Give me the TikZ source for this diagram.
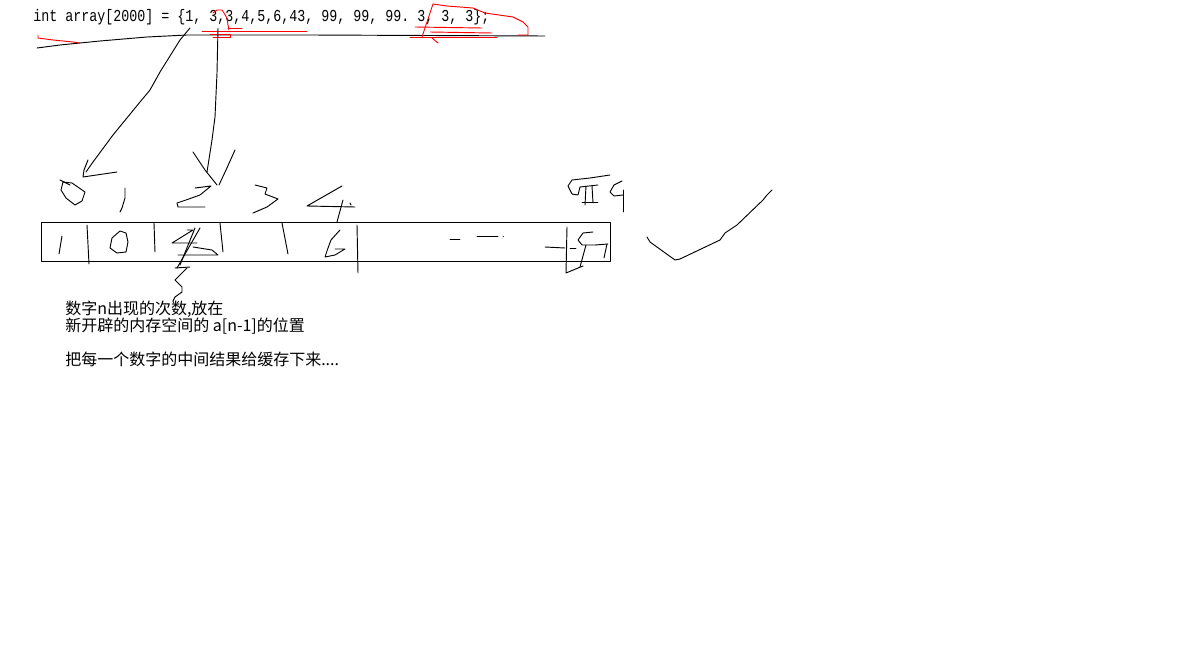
\documentclass[tikz,border=0pt]{standalone}
\usepackage{fontspec}
\setmonofont{Liberation Mono}
\newfontfamily\cjk{Noto Sans CJK SC}
\tikzset{
  pen/.style={line width=0.7pt, line join=round, line cap=round},
  redpen/.style={pen, red},
  note/.style={anchor=base west, inner sep=0pt, font=\cjk\fontsize{12}{14}\selectfont}
}

\begin{document}
\begin{tikzpicture}[x=0.75pt, y=-0.75pt]
\useasboundingbox (0,0) rectangle (1183,649);

% the source line
\node[anchor=base west, inner sep=0pt, font=\ttfamily\fontsize{10}{12}\selectfont] (code) at (33,22)
  {\scalebox{1}[1.25]{int array[2000] = \{1, 3,3,4,5,6,43, 99, 99, 99. 3, 3, 3\};}};
\draw[pen] (37,48) -- (60,45) -- (100,41) -- (147,37) -- (187,35) -- (310,35) -- (545,36);

% red marks
\draw[redpen] (38,35) -- (38,38) -- (53,40) -- (73,42) -- (80,43);
\draw[redpen] (213,13) -- (217,10) -- (222,10) -- (224,13) -- (227,18) -- (228,25) -- (229,30);
\draw[redpen] (202,31) -- (307,31);
\draw[redpen] (228,28) -- (242,28);
\draw[redpen] (210,34) -- (230,34) -- (230,37) -- (213,37);
\draw[redpen] (422,37) -- (433,4) -- (447,6) -- (473,8) -- (485,13) -- (513,17) -- (523,22) -- (528,27) -- (528,35) -- (518,35);
\draw[redpen] (415,27) -- (482,28);
\draw[redpen] (430,32) -- (492,33);
\draw[redpen] (410,37) -- (497,37);
\draw[redpen] (432,38) -- (438,43);

% arrows down to the indices
\coordinate (from1) at (190,28);
\coordinate (from3) at (218,28);
\draw[pen] (from1) -- (180,40) -- (160,72) -- (150,90) -- (140,102) -- (113,135) -- (93,162) -- (86,172);
\draw[pen] (88,160) -- (84,170) -- (83,177) -- (117,172);
\draw[pen] (from3) -- (217,73) -- (215,117) -- (212,140) -- (207,172);
\draw[pen] (193,152) -- (205,170) -- (217,185);
\draw[pen] (235,150) -- (226,170) -- (219,185);

% indices
\draw[pen] (63,182) -- (72,183) -- (85,192) -- (82,201) -- (75,205) -- (66,198) -- (61,190) -- cycle;
\draw[pen] (60,180) -- (70,185);
\draw[pen] (125,188) -- (125,198) -- (122,208) -- (120,212);
\draw[pen] (195,188) -- (211,186) -- (200,195) -- (186,200) -- (177,203) -- (178,207) -- (205,207);
\draw[pen] (255,185) -- (267,188) -- (265,194) -- (278,199) -- (267,207) -- (253,213);
\draw[pen] (342,186) -- (307,206) -- (355,207);
\draw[pen] (343,200) -- (337,222);
\draw[pen] (350,203) -- (351,205);
\draw[pen] (610,175) -- (590,178) -- (572,180) -- (568,186) -- (572,194) -- (578,195) -- (580,187) -- (598,185);
\draw[pen] (586,186) -- (585,205);
\draw[pen] (592,186) -- (593,203);
\draw[pen] (582,202) -- (598,202);
\draw[pen] (622,181) -- (614,185) -- (610,192) -- (614,196) -- (623,195);
\draw[pen] (623,190) -- (623,212);

% the new array
\draw[pen] (41,222) rectangle (610,261);
\draw[pen] (87,225) -- (89,264);
\draw[pen] (154,223) -- (155,252);
\draw[pen] (220,223) -- (223,252);
\draw[pen] (357,225) -- (358,273);
\draw[pen] (62,236) -- (59,254);
\draw[pen] (120,231) -- (126,233) -- (128,242) -- (126,252) -- (117,253) -- (110,248) -- (112,238) -- cycle;
\draw[pen] (282,223) -- (288,254);
\draw[pen] (340,230) -- (331,240) -- (328,248) -- (325,257) -- (335,255) -- (345,249) -- (335,249);
\draw[pen] (450,239) -- (460,239);
\draw[pen] (477,236) -- (498,236);
\draw[pen] (503,236) -- (503.5,236);
\draw[pen] (545,247) -- (565,248);
\draw[pen] (570,248) -- (576,248);
\draw[pen] (567,227) -- (566,273) -- (583,266);
\draw[pen] (593,232) -- (583,233) -- (578,240) -- (582,245) -- (595,245) -- (608,244);
\draw[pen] (586,245) -- (580,267);
\draw[pen] (607,244) -- (604,258);

% scribble over the third cell
\draw[pen] (187,230) -- (193,230) -- (172,243) -- (197,243);
\draw[pen] (200,228) -- (177,268);
\draw[pen] (195,228) -- (180,265);
\draw[pen] (193,247) -- (212,250) -- (218,255) -- (178,255);
\draw[pen] (175,268) -- (190,267);
\draw[pen] (187,268) -- (183,272) -- (175,280) -- (182,287) -- (182,292) -- (175,297) -- (173,301);

% tick mark
\draw[pen] (647,237) -- (650,242) -- (675,260) -- (680,259) -- (720,240) -- (725,233) -- (737,225) -- (763,200) -- (767,195) -- (772,190);

% notes
\node[note] (note1) at (65,315) {数字n出现的次数,放在};
\node[note] (note2) at (65,332) {新开辟的内存空间的 a[n-1]的位置};
\node[note] (note3) at (65,365) {把每一个数字的中间结果给缓存下来....};
\end{tikzpicture}
\end{document}
